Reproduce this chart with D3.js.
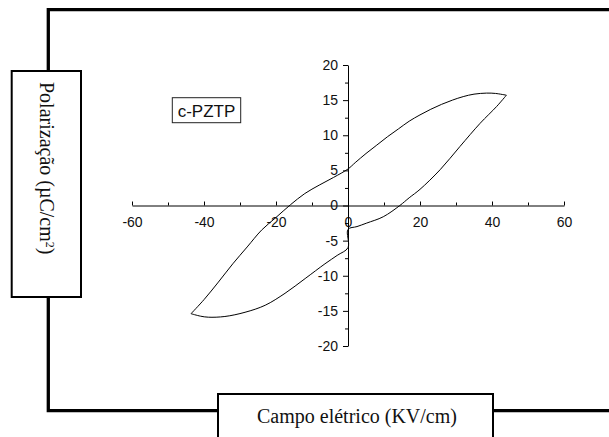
<!DOCTYPE html>
<html>
<head>
<meta charset="utf-8">
<script src="https://cdn.jsdelivr.net/npm/d3@7"></script>
<style>
  body { margin: 0; background: #fff; }
  svg { display: block; }
</style>
</head>
<body>
<div id="chart"></div>
<script>

// hysteresis loop, upper branch (field going down from +Emax)
var upperE = [44, 41, 38.5, 35, 32, 29, 26, 23, 20, 17, 14, 11, 8, 5, 2, 0,
              -4, -8, -12, -16, -20, -24, -28, -32, -36, -40, -43.6];
var upperP = [15.7, 15.95, 16.0, 15.85, 15.5, 15.0, 14.4, 13.7, 12.9, 12.0, 10.9, 9.8, 8.6, 7.4, 6.1, 5.2,
              4.0, 2.9, 1.7, 0.1, -1.7, -3.5, -5.9, -8.3, -10.9, -13.4, -15.4];

// lower branch (field going up from -Emax)
var lowerE = [-43.6, -41, -38.8, -34.2, -28.6, -23, -17.5, -11.9, -6.4, -3, 0, 0,
              2.5, 5.2, 9.8, 14.4, 17, 20, 25.6, 31.1, 36.7, 41.3, 44];
var lowerP = [-15.4, -15.75, -15.9, -15.8, -15.2, -14.2, -12.5, -10.4, -8.3, -7.1, -6.0, -3.4,
              -3.0, -2.5, -1.6, 0, 1.1, 2.3, 5.1, 8.4, 11.7, 14.1, 15.7];

var xTicks = [-60, -40, -20, 0, 20, 40, 60];
var xMinor = [-50, -30, -10, 10, 30, 50];
var yTicks = [-20, -15, -10, -5, 0, 5, 10, 15, 20];
var yMinor = [-17.5, -12.5, -7.5, -2.5, 2.5, 7.5, 12.5, 17.5];

var sampleLabel = "c-PZTP";
var xTitle = "Campo elétrico (KV/cm)";

var width = 609, height = 437;

var svg = d3.select("#chart").append("svg")
    .attr("width", width)
    .attr("height", height);

// ranges
var x = d3.scaleLinear().domain([-60, 60]).range([132, 564]);
var y = d3.scaleLinear().domain([-20, 20]).range([346, 65]);

// plain hyphen instead of the unicode minus
var fmt = function(d) { return String(d); };

// thick frame around the plot
var frame = svg.append("g")
    .attr("fill", "none")
    .attr("stroke", "#000")
    .attr("stroke-width", 3.3);
frame.append("path").attr("d", "M48.3,71 V9.7 H612");
frame.append("path").attr("d", "M48.3,297 V410.7 H218");
frame.append("path").attr("d", "M493,410.7 H612");

// y title box
svg.append("rect")
    .attr("x", 11.7).attr("y", 71)
    .attr("width", 69.3).attr("height", 226)
    .attr("fill", "#fff").attr("stroke", "#000").attr("stroke-width", 2);

var yt = svg.append("text")
    .attr("transform", "translate(40,82) rotate(90)")
    .style("font-family", "'Liberation Serif', 'Times New Roman', serif")
    .style("font-size", "20px")
    .attr("fill", "#111")
    .text("Polarização (µC/cm");
yt.append("tspan").attr("dy", -6).style("font-size", "12px").text("2");
yt.append("tspan").attr("dy", 6).text(")");

// x title box
svg.append("rect")
    .attr("x", 218).attr("y", 394)
    .attr("width", 275).attr("height", 60)
    .attr("fill", "#fff").attr("stroke", "#000").attr("stroke-width", 2);

svg.append("text")
    .attr("x", 357).attr("y", 423)
    .attr("text-anchor", "middle")
    .style("font-family", "'Liberation Serif', 'Times New Roman', serif")
    .style("font-size", "20px")
    .attr("fill", "#111")
    .text(xTitle);

// sample label
svg.append("rect")
    .attr("x", 172.3).attr("y", 97.7)
    .attr("width", 68.4).attr("height", 25)
    .attr("fill", "#fff").attr("stroke", "#222").attr("stroke-width", 1);

svg.append("text")
    .attr("x", 206.5).attr("y", 117.3)
    .attr("text-anchor", "middle")
    .style("font-family", "'Liberation Sans', Arial, sans-serif")
    .style("font-size", "17px")
    .attr("fill", "#111")
    .text(sampleLabel);

// x axis through P = 0, ticks pointing up, labels below
svg.append("g")
    .attr("transform", "translate(0," + y(0) + ")")
    .call(d3.axisBottom(x).tickValues(xTicks).tickFormat(fmt)
      .tickSize(-4).tickSizeOuter(0).tickPadding(12));
svg.append("g")
    .attr("transform", "translate(0," + y(0) + ")")
    .call(d3.axisBottom(x).tickValues(xMinor).tickSize(-3).tickSizeOuter(0).tickFormat(""))
    .select(".domain").remove();

// y axis through E = 0, ticks pointing left
svg.append("g")
    .attr("transform", "translate(" + x(0) + ",0)")
    .call(d3.axisLeft(y).tickValues(yTicks).tickFormat(fmt)
      .tickSize(5).tickSizeOuter(0).tickPadding(5));
svg.append("g")
    .attr("transform", "translate(" + x(0) + ",0)")
    .call(d3.axisLeft(y).tickValues(yMinor).tickSize(3).tickSizeOuter(0).tickFormat(""))
    .select(".domain").remove();

svg.selectAll(".tick text")
    .style("font-family", "'Liberation Sans', Arial, sans-serif")
    .style("font-size", "14px")
    .attr("fill", "#111");
svg.selectAll(".tick line, .domain").attr("stroke", "#000");

// loop
var line = d3.line()
    .x(function(d) { return x(d[0]); })
    .y(function(d) { return y(d[1]); })
    .curve(d3.curveCatmullRom.alpha(0.5));

var upper = upperE.map(function(e, i) { return [e, upperP[i]]; });
var lower = lowerE.map(function(e, i) { return [e, lowerP[i]]; });

svg.selectAll(".branch")
    .data([upper, lower])
  .enter().append("path")
    .attr("class", "branch")
    .attr("d", line)
    .attr("fill", "none")
    .attr("stroke", "#000")
    .attr("stroke-width", 1);

</script>
</body>
</html>
